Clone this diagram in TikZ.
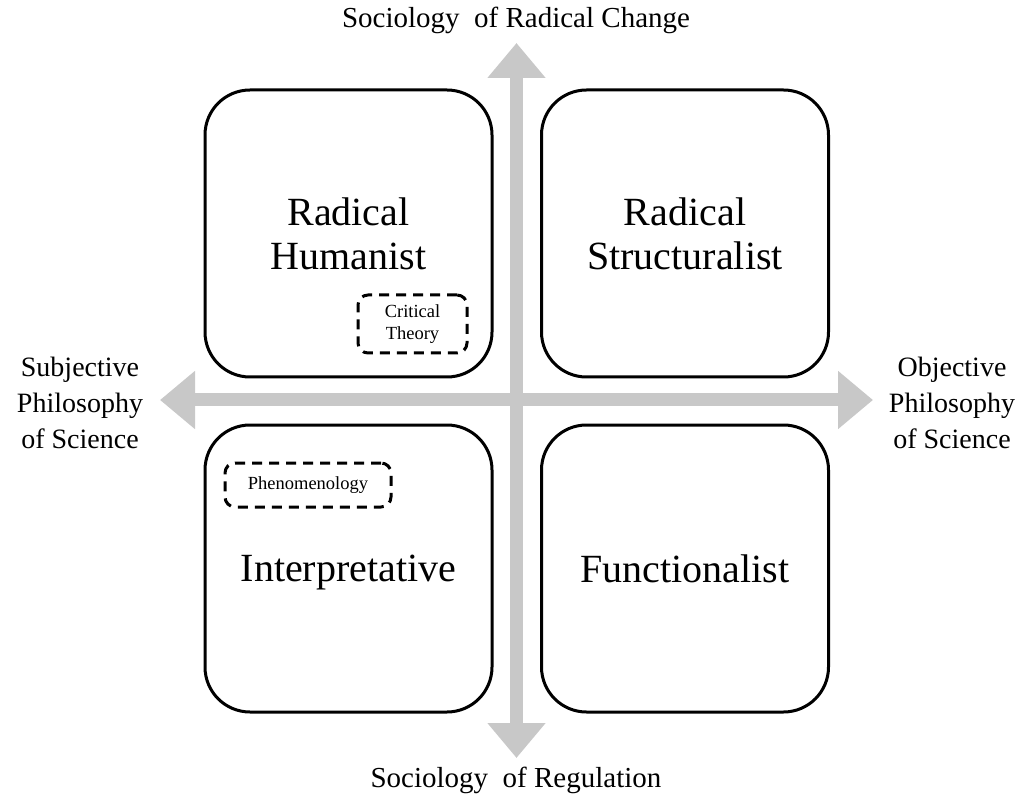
\documentclass[tikz,border=0pt]{standalone}
\usepackage{fontspec}
\setmainfont{Liberation Serif}
\usetikzlibrary{arrows.meta}
\definecolor{axisgray}{RGB}{200,200,200}
\tikzset{
  quad/.style={draw=black, line width=3pt, rounded corners=45pt, minimum width=287pt, minimum height=287pt, inner sep=0pt, align=center, font=\fontsize{40}{44}\selectfont},
  subbox/.style={draw=black, line width=3pt, dash pattern=on 10pt off 7pt, rounded corners=10pt, inner sep=0pt, align=center, font=\fontsize{18.5}{22}\selectfont},
  axis/.style={draw=axisgray, line width=13pt, {Triangle[width=56pt,length=35pt]}-{Triangle[width=56pt,length=35pt]}},
  axislabel/.style={align=center, font=\fontsize{28}{36}\selectfont, inner sep=0pt}
}
\begin{document}
\begin{tikzpicture}[x=1pt,y=-1pt]
\useasboundingbox (0,0) rectangle (1026,802);
% quadrants
\node[quad] (rh) at (348.5,233.5) {Radical\\Humanist};
\node[quad] (rs) at (685,233.5) {Radical\\Structuralist};
\node[quad] (ip) at (348.5,568.5) {\raisebox{0pt}[\height][0pt]{Interpretative}};
\node[quad] (fn) at (685,568.5) {Functionalist};
% sub boxes
\node[subbox, minimum width=109pt, minimum height=58pt] (ct) at (412.5,324) {Critical\\Theory};
\node[subbox, minimum width=166pt, minimum height=44pt] (ph) at (308,485) {Phenomenology};
% axes
\coordinate (N) at (516.5,43);
\coordinate (S) at (516.5,758);
\coordinate (W) at (160,400);
\coordinate (E) at (873,400);
\draw[axis] (S) -- (N);
\draw[axis] (W) -- (E);
% axis labels
\node[axislabel, font=\fontsize{29}{36}\selectfont] (top) at (516,20) {Sociology\ \ of Radical Change};
\node[axislabel, font=\fontsize{29}{36}\selectfont] (bot) at (516,780) {Sociology\ \ of Regulation};
\node[axislabel] (left) at (80,403) {Subjective\\Philosophy\\of Science};
\node[axislabel] (right) at (952,403) {Objective\\Philosophy\\of Science};
\end{tikzpicture}
\end{document}
